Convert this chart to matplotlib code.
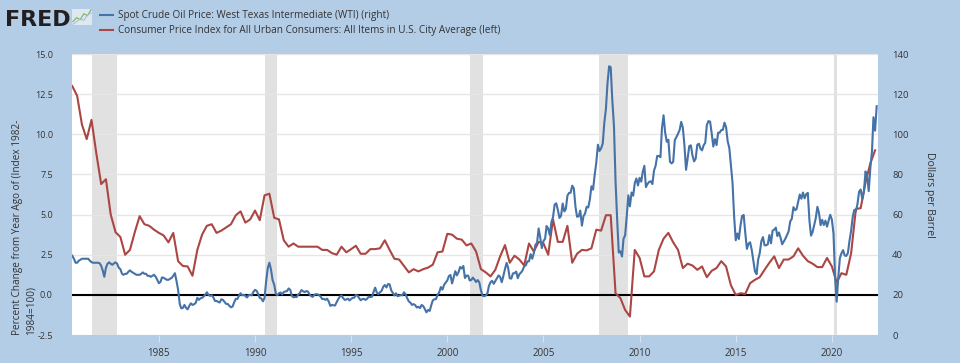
import matplotlib.pyplot as plt
import matplotlib.dates as mdates
import pandas as pd
from matplotlib.ticker import FormatStrFormatter, MultipleLocator

plt.rcParams['font.family'] = ['Open Sans', 'DejaVu Sans']

# CPI, percent change from year ago, quarterly (1980Q3 .. 2022Q2)
cpi_start = '1980-07-01'
cpi_yoy = [
    13.0, 12.4,
    10.6, 9.7, 10.9, 8.8,
    6.9, 7.2, 5.0, 3.9,
    3.6, 2.5, 2.8, 3.9,
    4.9, 4.4, 4.3, 4.06,
    3.86, 3.7, 3.27, 3.86,
    2.1, 1.8, 1.77, 1.19,
    2.8, 3.75, 4.3, 4.4,
    3.86, 4.0, 4.2, 4.4,
    4.96, 5.2, 4.5, 4.7,
    5.25, 4.65, 6.2, 6.3,
    4.8, 4.7, 3.4, 3.0,
    3.2, 3.0, 3.0, 3.0,
    3.0, 3.0, 2.8, 2.8,
    2.6, 2.5, 3.0, 2.65,
    2.85, 3.06, 2.56, 2.56,
    2.85, 2.85, 2.9, 3.4,
    2.8, 2.25, 2.2, 1.8,
    1.4, 1.6, 1.46, 1.6,
    1.7, 1.88, 2.65, 2.7,
    3.8, 3.75, 3.5, 3.44,
    3.08, 3.2, 2.7, 1.6,
    1.4, 1.15, 1.56, 2.4,
    3.1, 2.0, 2.44, 2.2,
    1.83, 3.2, 2.7, 3.3,
    3.2, 2.5, 4.7, 3.3,
    3.3, 4.3, 2.0, 2.56,
    2.8, 2.77, 2.9, 4.06,
    4.0, 4.96, 4.96, 0.1,
    -0.2, -0.94, -1.35, 2.8,
    2.3, 1.15, 1.15, 1.46,
    2.8, 3.5, 3.86, 3.27,
    2.8, 1.67, 1.94, 1.83,
    1.56, 1.77, 1.1, 1.5,
    1.67, 2.1, 1.77, 0.6,
    0.0, 0.1, 0.06, 0.73,
    0.94, 1.1, 1.56, 2.0,
    2.4, 1.67, 2.2, 2.2,
    2.4, 2.9, 2.44, 2.1,
    1.94, 1.73, 1.73, 2.3,
    1.77, 0.77, 1.35, 1.25,
    2.6, 5.35, 5.4, 7.0,
    8.2, 9.0,
]

# WTI spot price, dollars per barrel, monthly (1980-07 .. 2022-05)
wti_start = '1980-07-01'
wti_price = [
    39.5, 38.0, 36.0, 36.0, 37.0, 37.5,
    38.0, 38.0, 38.0, 38.0, 38.0, 37.0, 36.3, 36.0, 36.0, 36.0, 36.0, 35.8,
    34.5, 32.0, 29.0, 33.5, 35.5, 36.2, 35.5, 35.0, 35.7, 36.2, 35.5, 33.5,
    32.8, 30.5, 30.0, 30.5, 30.5, 31.5, 32.2, 31.5, 31.0, 30.5, 30.0, 30.0,
    30.0, 30.5, 31.2, 30.5, 30.5, 29.5, 29.5, 29.0, 29.5, 30.0, 29.0, 27.5,
    25.8, 26.5, 28.7, 28.5, 28.0, 27.5, 27.5, 28.0, 28.5, 29.5, 30.8, 27.0,
    22.5, 15.5, 13.3, 13.5, 15.0, 13.5, 12.8, 14.5, 15.8, 15.0, 15.3, 16.0,
    18.5, 17.5, 18.3, 18.5, 19.2, 20.0, 21.3, 20.0, 19.5, 19.8, 18.8, 17.0,
    17.0, 16.5, 16.2, 17.8, 17.5, 16.5, 15.5, 15.5, 14.5, 13.8, 14.2, 16.3,
    18.0, 18.0, 19.5, 20.8, 19.8, 20.0, 19.5, 18.7, 19.8, 20.0, 19.8, 21.5,
    22.5, 22.0, 20.5, 18.5, 18.2, 16.8, 18.5, 27.0, 33.5, 36.0, 32.5, 27.3,
    25.0, 20.5, 19.8, 20.8, 21.2, 20.2, 21.4, 21.7, 21.9, 23.2, 22.5, 19.5,
    18.8, 19.0, 18.9, 20.2, 20.9, 22.4, 21.8, 21.4, 21.9, 21.7, 20.3, 19.4,
    19.0, 20.1, 20.3, 20.3, 19.9, 19.1, 17.9, 18.0, 17.5, 18.1, 16.7, 14.5,
    15.0, 14.8, 14.7, 16.4, 17.9, 19.1, 19.7, 18.4, 17.5, 17.7, 18.1, 17.2,
    18.0, 18.5, 18.6, 19.9, 19.7, 18.4, 17.3, 17.9, 18.0, 17.5, 18.1, 19.1,
    18.9, 19.1, 21.4, 23.6, 21.2, 20.4, 21.3, 22.0, 24.0, 24.9, 23.7, 25.4,
    25.2, 22.2, 21.0, 19.7, 20.8, 19.3, 19.6, 19.9, 19.8, 21.3, 20.2, 18.3,
    16.7, 16.1, 15.0, 15.4, 14.9, 13.7, 14.1, 13.4, 15.0, 14.4, 12.9, 11.3,
    12.5, 12.0, 14.7, 17.3, 17.8, 17.9, 20.1, 21.3, 23.9, 22.6, 25.0, 26.1,
    27.2, 29.4, 29.9, 25.7, 28.8, 31.8, 29.7, 31.3, 33.9, 33.1, 34.4, 28.4,
    29.6, 29.6, 27.2, 27.4, 28.6, 27.6, 26.4, 27.4, 26.2, 22.2, 19.6, 19.3,
    19.7, 20.7, 24.4, 26.3, 27.0, 25.5, 26.9, 28.4, 29.7, 28.9, 26.3, 29.4,
    32.9, 35.9, 33.6, 28.3, 28.1, 30.7, 30.8, 31.6, 28.3, 30.3, 31.1, 32.2,
    34.3, 34.7, 36.7, 36.7, 40.3, 38.0, 40.7, 44.9, 45.9, 53.1, 48.5, 43.3,
    46.8, 48.0, 54.3, 53.0, 49.8, 56.3, 58.7, 65.0, 65.6, 62.3, 58.3, 59.4,
    65.5, 61.6, 62.7, 69.4, 70.8, 70.9, 74.4, 73.0, 63.8, 58.9, 59.1, 62.0,
    54.5, 59.3, 60.4, 63.9, 63.5, 67.5, 74.1, 72.4, 79.9, 85.8, 94.8, 91.7,
    93.0, 95.4, 105.5, 112.6, 125.4, 133.9, 133.4, 116.7, 104.1, 76.6, 57.3, 41.1,
    41.7, 39.1, 47.9, 49.7, 59.0, 69.6, 64.1, 71.0, 69.4, 75.7, 78.0, 74.5,
    78.3, 76.4, 81.2, 84.3, 73.7, 75.3, 76.3, 76.6, 75.2, 81.9, 84.3, 89.2,
    89.2, 88.6, 102.9, 109.5, 100.9, 96.3, 97.3, 86.3, 85.5, 86.3, 97.2, 98.6,
    100.3, 102.2, 106.2, 103.3, 94.7, 82.3, 87.9, 94.1, 94.5, 89.5, 86.5, 87.9,
    94.8, 95.3, 92.9, 92.0, 94.5, 95.8, 104.6, 106.6, 106.3, 100.5, 93.9, 97.6,
    94.6, 100.8, 100.8, 102.1, 102.2, 105.8, 103.6, 96.5, 93.2, 84.4, 75.8, 59.3,
    47.2, 50.6, 47.8, 54.5, 59.3, 59.8, 50.9, 42.9, 45.5, 46.2, 42.4, 37.2,
    31.7, 30.3, 37.5, 40.8, 46.7, 48.8, 44.7, 44.7, 45.2, 49.8, 45.7, 52.0,
    52.5, 53.5, 49.3, 51.1, 48.5, 45.2, 46.6, 48.0, 49.8, 51.6, 56.6, 57.9,
    63.7, 62.2, 62.7, 66.3, 70.0, 67.9, 71.0, 68.1, 70.2, 70.8, 57.0, 49.5,
    51.4, 55.0, 58.2, 63.9, 60.8, 54.7, 57.4, 54.8, 57.0, 54.0, 57.0, 59.9,
    57.5, 50.5, 29.2, 16.6, 28.5, 38.3, 40.7, 42.3, 39.6, 39.4, 40.9, 47.0,
    52.0, 59.0, 62.3, 61.7, 65.2, 71.4, 72.5, 67.7, 71.6, 81.5, 79.2, 71.7,
    83.2, 91.6, 108.5, 101.8, 114.0,
]

recessions = [
    ('1981-07-01', '1982-11-01'),
    ('1990-07-01', '1991-03-01'),
    ('2001-03-01', '2001-11-01'),
    ('2007-12-01', '2009-06-01'),
    ('2020-02-01', '2020-04-01'),
]

wti_label = 'Spot Crude Oil Price: West Texas Intermediate (WTI) (right)'
cpi_label = 'Consumer Price Index for All Urban Consumers: All Items in U.S. City Average (left)'
left_title = 'Percent Change from Year Ago of (Index 1982-\n1984=100)'
right_title = 'Dollars per Barrel'

# small decoration for the logo icon
icon_a = [1.0, 1.6, 1.3, 2.2, 1.9, 2.8]
icon_b = [0.6, 1.0, 1.4, 1.2, 2.0, 2.3]

bg = '#b4cde6'
blue = '#4572a7'
red = '#aa4643'
txt = '#333333'

cpi_dates = pd.date_range(cpi_start, periods=len(cpi_yoy), freq='QS')
wti_dates = pd.date_range(wti_start, periods=len(wti_price), freq='MS')

fig = plt.figure(figsize=(9.6, 3.63), dpi=100, facecolor=bg)
ax = fig.add_axes([0.0753, 0.0771, 0.8396, 0.7741])
ax2 = ax.twinx()

ax.set_facecolor('white')
for a in (ax, ax2):
    for s in a.spines.values():
        s.set_visible(False)

for start, end in recessions:
    ax.axvspan(pd.Timestamp(start), pd.Timestamp(end), color='#e1e1e1', lw=0, zorder=0)

ax.axhline(0, color='black', lw=1.5, zorder=3)
line_cpi, = ax.plot(cpi_dates, cpi_yoy, color=red, lw=1.5, zorder=4)
line_wti, = ax2.plot(wti_dates, wti_price, color=blue, lw=1.5)

ax.set_xlim(pd.Timestamp('1980-07-01'), pd.Timestamp('2022-06-01'))
ax.set_ylim(-2.5, 15)
ax2.set_ylim(0, 140)

ax.yaxis.set_major_locator(MultipleLocator(2.5))
ax.yaxis.set_major_formatter(FormatStrFormatter('%.1f'))
ax2.yaxis.set_major_locator(MultipleLocator(20))
ax.xaxis.set_major_locator(mdates.YearLocator(5))
ax.xaxis.set_major_formatter(mdates.DateFormatter('%Y'))

ax.grid(axis='y', color='#e6e6e6', lw=1)
ax.set_axisbelow(True)

ax.tick_params(axis='y', length=0, pad=14, labelsize=6.5, labelcolor=txt)
ax2.tick_params(axis='y', length=0, pad=10, labelsize=6.8, labelcolor=txt)
ax.tick_params(axis='x', length=5, color='#d6e2ee', pad=4, labelsize=7, labelcolor=txt)

fig.text(12 / 960, 1 - 335 / 363, left_title, rotation=90, rotation_mode='anchor',
         ha='left', va='top', multialignment='left', fontsize=7.2, color=txt,
         linespacing=1.3)
fig.text(929 / 960, 1 - 195 / 363, right_title, rotation=270, ha='center', va='center',
         fontsize=7.5, color=txt)

fig.legend([line_wti, line_cpi], [wti_label, cpi_label], loc='upper left',
           bbox_to_anchor=(100 / 960, 1 - 10 / 363), frameon=False, fontsize=7.2,
           handlelength=1.3, handletextpad=0.45, labelspacing=0.42,
           borderpad=0, borderaxespad=0, labelcolor=txt)

# FRED logo
fig.text(5 / 960, 1 - 26 / 363, 'FRED', fontsize=16, fontweight='bold',
         color='#231f20', family='DejaVu Sans')
icon = fig.add_axes([72 / 960, 1 - 25 / 363, 20 / 960, 16 / 363])
icon.set_facecolor('#dfe8ef')
icon.plot(icon_a, color='#7fb24a', lw=0.8)
icon.plot(icon_b, color='#9cc3e0', lw=0.8)
icon.set_xticks([])
icon.set_yticks([])
for s in icon.spines.values():
    s.set_visible(False)

fig.savefig('out.png', dpi=100, facecolor=bg)
